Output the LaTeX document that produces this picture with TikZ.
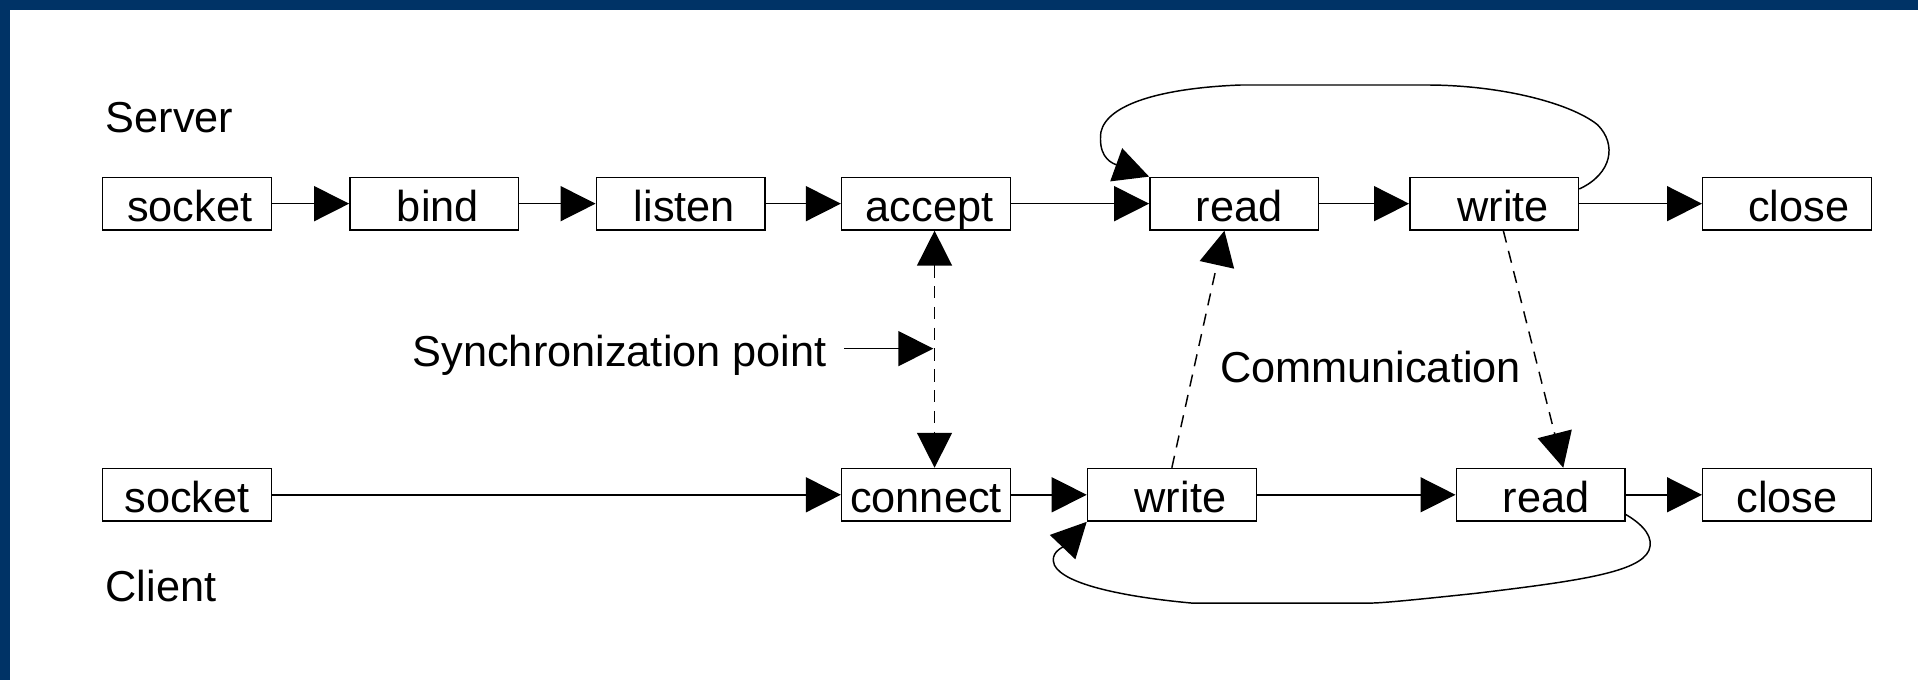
\documentclass[tikz,border=0pt]{standalone}
\usepackage{fontspec}
\setmainfont{Liberation Sans}
\usetikzlibrary{arrows.meta}
\definecolor{frameblue}{RGB}{0,51,102}
\begin{document}
\begin{tikzpicture}[x=0.5pt,y=-0.5pt,
  >={Triangle[length=14.3pt,width=14.3pt]},
  txt/.style={font=\fontsize{17.7}{20}\selectfont},
  box/.style={txt,draw,line width=0.6pt,minimum width=69pt,minimum height=21.5pt,
    inner sep=0pt,text height=15pt,text depth=0.5pt},
  lbl/.style={txt,inner sep=0pt,anchor=base west},
  conn/.style={line width=0.6pt,->},
  dsh/.style={line width=0.6pt,dash pattern=on 5pt off 3.5pt},
  loop/.style={line width=0.6pt,->}
]
\useasboundingbox (0,0) rectangle (1568,556);
\fill[white] (0,0) rectangle (1568,556);
\fill[frameblue] (0,0) rectangle (1568,8.2);
\fill[frameblue] (0,0) rectangle (8.2,556);

% labels
\node[lbl] (server) at (86,108) {Server};
\node[lbl] (client) at (86,492) {Client};
\node[lbl] (sync) at (337,300) {Synchronization point};
\node[lbl] (comm) at (997,313) {Communication};

% server row
\node[box] (ss) at (153,166.5) {\hspace{2pt}socket};
\node[box] (sb) at (355,166.5) {\hspace{3pt}bind};
\node[box] (sl) at (556.5,166.5) {\hspace{3pt}listen};
\node[box] (sa) at (757,166.5) {\hspace{3pt}accept};
\node[box] (sr) at (1009,166.5) {\hspace{4pt}read};
\node[box] (sw) at (1221.5,166.5) {\hspace{7.5pt}write};
\node[box] (sc) at (1461,166.5) {\hspace{9.5pt}close};

% client row
\node[box] (cs) at (153,404.5) {socket};
\node[box] (cc) at (757,404.5) {connect};
\node[box] (cw) at (958,404.5) {\hspace{7pt}write};
\node[box] (cr) at (1259.5,404.5) {\hspace{4.5pt}read};
\node[box] (cl) at (1461,404.5) {close};

% server flow
\draw[conn] (ss) -- (sb);
\draw[conn] (sb) -- (sl);
\draw[conn] (sl) -- (sa);
\draw[conn] (sa) -- (sr);
\draw[conn] (sr) -- (sw);
\draw[conn] (sw) -- (sc);

% client flow
\draw[conn] (cs) -- (cc);
\draw[conn] (cc) -- (cw);
\draw[conn] (cw) -- (cr);
\draw[conn] (cr) -- (cl);

% synchronization
\draw[dsh,<->] ([xshift=3.5pt]sa.south) -- ([xshift=3.5pt]cc.north);
\coordinate (syncend) at (763,285);
\draw[conn] ([xshift=7pt,yshift=7.5pt]sync.base east) -- (syncend);

% communication
\draw[dsh,->] (cw.north) -- ([xshift=-4pt]sr.south);
\draw[dsh,->] ([xshift=3.75pt]sw.south) -- ([xshift=9.25pt]cr.north);

% server loop
\draw[loop] ([yshift=6pt]sw.east)
  .. controls (1318,142) and (1322,118) .. (1306,102)
  .. controls (1285,85) and (1230,70) .. (1169,69.5)
  -- (1014,69.5)
  .. controls (950,72) and (905,85) .. (900,108)
  .. controls (898,125) and (905,132) .. (sr.north west);

% client loop
\draw[loop] ([yshift=3pt]cr.south east)
  .. controls (1345,430) and (1352,440) .. (1348,450)
  .. controls (1340,468) and (1290,475) .. (1207,485)
  .. controls (1160,490) and (1130,493) .. (1121,493)
  -- (974,493)
  .. controls (920,488) and (870,478) .. (862,462)
  .. controls (858,452) and (868,448) .. (cw.south west);
\end{tikzpicture}
\end{document}
